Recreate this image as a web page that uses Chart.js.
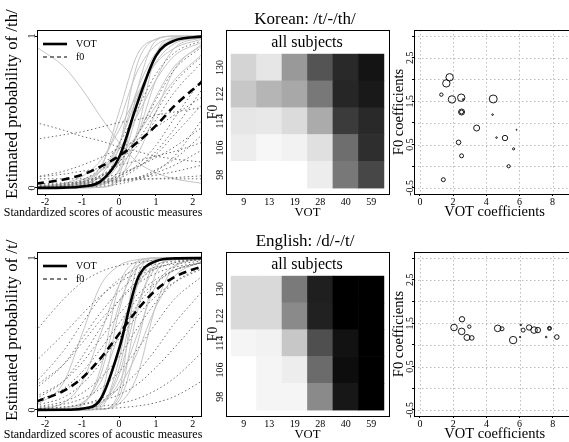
<!DOCTYPE html>
<html>
<head>
<meta charset="utf-8">
<script src="https://cdn.jsdelivr.net/npm/chart.js@4.4.0/dist/chart.umd.min.js"></script>
<style>
  html, body { margin: 0; padding: 0; background: #fff; overflow: hidden; }
  #fig { position: relative; width: 569px; height: 442px; overflow: hidden; }
  canvas { position: absolute; }
</style>
</head>
<body>
<div id="fig">
  <canvas id="koProb" width="205" height="222" style="left:0;top:0"></canvas>
  <canvas id="koHeat" width="210" height="222" style="left:200px;top:0"></canvas>
  <canvas id="koCoef" width="200" height="222" style="left:380px;top:0"></canvas>
  <canvas id="enProb" width="205" height="222" style="left:0;top:222px"></canvas>
  <canvas id="enHeat" width="210" height="222" style="left:200px;top:222px"></canvas>
  <canvas id="enCoef" width="200" height="222" style="left:380px;top:222px"></canvas>
</div>
<script>
const SERIF = "'Liberation Serif', 'Times New Roman', serif";
Chart.defaults.font.family = SERIF;
Chart.defaults.color = '#000';

// ---- probability curves: y values read at these standardized scores
const probX = [-2.25, -1.5, -1, -0.5, 0, 0.5, 1, 1.5, 2.25];
const probXTicks = [-2, -1, 0, 1, 2];
const probYTicks = [0, 1];

const koVotMean = [0, 0.002, 0.009, 0.043, 0.2, 0.56, 0.87, 0.97, 0.997];
const koF0Mean = [0.028, 0.055, 0.087, 0.14, 0.21, 0.3, 0.41, 0.54, 0.7];
const koVotCurves = [
  [0, 0.002, 0.018, 0.12, 0.5, 0.88, 0.98, 0.998, 1],
  [0, 0, 0.002, 0.03, 0.27, 0.82, 0.98, 1, 1],
  [0.001, 0.005, 0.02, 0.08, 0.29, 0.65, 0.89, 0.97, 0.997],
  [0, 0, 0, 0.005, 0.08, 0.65, 0.97, 1, 1],
  [0, 0, 0.002, 0.018, 0.12, 0.5, 0.88, 0.98, 1],
  [0.001, 0.008, 0.036, 0.14, 0.43, 0.77, 0.94, 0.985, 0.998],
  [0, 0, 0, 0.004, 0.047, 0.38, 0.88, 0.99, 1],
  [0, 0.001, 0.006, 0.027, 0.11, 0.35, 0.71, 0.92, 0.99],
  [0.002, 0.01, 0.032, 0.11, 0.29, 0.6, 0.83, 0.95, 0.99],
  [0.002, 0.01, 0.027, 0.07, 0.17, 0.35, 0.6, 0.8, 0.94],
  [0.004, 0.016, 0.043, 0.11, 0.25, 0.48, 0.71, 0.87, 0.96],
  [0.01, 0.027, 0.055, 0.11, 0.21, 0.35, 0.54, 0.71, 0.88],
  [0.007, 0.03, 0.076, 0.18, 0.38, 0.62, 0.82, 0.92, 0.98],
  [0, 0.001, 0.006, 0.036, 0.17, 0.55, 0.87, 0.976, 0.998],
  [0, 0.002, 0.007, 0.023, 0.076, 0.22, 0.5, 0.78, 0.95],
  [0.93, 0.8, 0.65, 0.47, 0.3, 0.17, 0.1, 0.06, 0.03]
];
const koF0Curves = [
  [0.005, 0.02, 0.052, 0.13, 0.29, 0.52, 0.75, 0.89, 0.97],
  [0.003, 0.012, 0.03, 0.074, 0.17, 0.35, 0.58, 0.78, 0.93],
  [0.006, 0.018, 0.038, 0.082, 0.17, 0.31, 0.5, 0.69, 0.87],
  [0.007, 0.019, 0.039, 0.08, 0.15, 0.28, 0.45, 0.63, 0.83],
  [0.003, 0.008, 0.018, 0.037, 0.078, 0.15, 0.28, 0.46, 0.72],
  [0.003, 0.007, 0.015, 0.031, 0.064, 0.13, 0.24, 0.39, 0.65],
  [0.006, 0.014, 0.026, 0.046, 0.08, 0.14, 0.22, 0.35, 0.55],
  [0.001, 0.003, 0.006, 0.012, 0.026, 0.057, 0.11, 0.21, 0.45],
  [0.003, 0.007, 0.012, 0.022, 0.039, 0.068, 0.12, 0.19, 0.35],
  [0.007, 0.013, 0.019, 0.03, 0.046, 0.069, 0.1, 0.15, 0.25],
  [0.016, 0.022, 0.03, 0.038, 0.05, 0.065, 0.084, 0.107, 0.15],
  [0.028, 0.033, 0.037, 0.043, 0.048, 0.054, 0.061, 0.068, 0.08],
  [0.073, 0.11, 0.15, 0.2, 0.26, 0.32, 0.4, 0.48, 0.6],
  [0.016, 0.029, 0.043, 0.063, 0.095, 0.14, 0.2, 0.27, 0.4],
  [0.071, 0.091, 0.11, 0.13, 0.15, 0.18, 0.21, 0.24, 0.3],
  [0.06, 0.06, 0.06, 0.06, 0.06, 0.06, 0.06, 0.06, 0.06],
  [0.43, 0.38, 0.34, 0.31, 0.27, 0.24, 0.21, 0.19, 0.17],
  [0.32, 0.35, 0.37, 0.4, 0.43, 0.45, 0.48, 0.5, 0.53]
];

const enVotMean = [0, 0.001, 0.008, 0.07, 0.4, 0.86, 0.98, 0.998, 1];
const enF0Mean = [0.054, 0.125, 0.21, 0.34, 0.5, 0.66, 0.79, 0.875, 0.946];
const enVotCurves = [
  [0, 0.002, 0.03, 0.27, 0.82, 0.98, 1, 1, 1],
  [0, 0.005, 0.04, 0.23, 0.69, 0.94, 0.99, 1, 1],
  [0, 0, 0.005, 0.083, 0.65, 0.97, 1, 1, 1],
  [0.001, 0.011, 0.047, 0.18, 0.5, 0.82, 0.95, 0.99, 1],
  [0, 0, 0, 0.015, 0.33, 0.94, 1, 1, 1],
  [0, 0, 0.002, 0.03, 0.27, 0.82, 0.98, 1, 1],
  [0, 0.001, 0.005, 0.04, 0.23, 0.69, 0.94, 0.99, 1],
  [0, 0, 0, 0.005, 0.083, 0.65, 0.97, 1, 1],
  [0, 0.002, 0.011, 0.047, 0.18, 0.5, 0.82, 0.95, 0.994],
  [0, 0, 0, 0.005, 0.06, 0.44, 0.9, 0.99, 1],
  [0.027, 0.18, 0.5, 0.82, 0.95, 0.99, 1, 1, 1],
  [0.001, 0.004, 0.014, 0.047, 0.15, 0.38, 0.68, 0.88, 0.98],
  [0.006, 0.047, 0.18, 0.5, 0.82, 0.95, 0.99, 1, 1],
  [0, 0, 0, 0.002, 0.12, 0.88, 1, 1, 1],
  [0, 0, 0.001, 0.005, 0.04, 0.23, 0.69, 0.94, 0.996]
];
const enF0Curves = [
  [0.52, 0.73, 0.84, 0.91, 0.95, 0.97, 0.986, 0.993, 0.997],
  [0.18, 0.39, 0.57, 0.74, 0.86, 0.93, 0.96, 0.98, 0.994],
  [0.14, 0.3, 0.47, 0.64, 0.78, 0.88, 0.93, 0.97, 0.99],
  [0.072, 0.19, 0.35, 0.54, 0.72, 0.85, 0.93, 0.97, 0.99],
  [0.088, 0.19, 0.31, 0.47, 0.63, 0.76, 0.86, 0.92, 0.97],
  [0.057, 0.14, 0.25, 0.4, 0.57, 0.73, 0.84, 0.92, 0.97],
  [0.06, 0.13, 0.21, 0.33, 0.47, 0.62, 0.75, 0.84, 0.93],
  [0.02, 0.055, 0.11, 0.21, 0.35, 0.54, 0.71, 0.84, 0.94],
  [0.015, 0.038, 0.074, 0.14, 0.25, 0.4, 0.57, 0.73, 0.88],
  [0.007, 0.019, 0.038, 0.074, 0.14, 0.25, 0.4, 0.57, 0.78],
  [0.008, 0.019, 0.034, 0.06, 0.1, 0.17, 0.28, 0.41, 0.62],
  [0.003, 0.007, 0.013, 0.024, 0.042, 0.074, 0.13, 0.21, 0.38],
  [0.001, 0.002, 0.004, 0.007, 0.014, 0.026, 0.048, 0.088, 0.19],
  [0.32, 0.5, 0.63, 0.75, 0.84, 0.9, 0.94, 0.96, 0.98],
  [0.16, 0.3, 0.44, 0.59, 0.72, 0.83, 0.9, 0.94, 0.97],
  [0.03, 0.083, 0.17, 0.31, 0.5, 0.69, 0.83, 0.92, 0.97]
];

// ---- heatmaps: darkness (proportion) per cell, rows listed from F0 130 down to 98
const votLevels = [9, 13, 19, 28, 40, 59];
const f0Levels = [130, 122, 114, 106, 98];
const koHeat = [
  [0.17, 0.10, 0.40, 0.67, 0.84, 0.92],
  [0.22, 0.29, 0.34, 0.53, 0.85, 0.90],
  [0.10, 0.09, 0.14, 0.33, 0.77, 0.84],
  [0.07, 0.03, 0.05, 0.12, 0.57, 0.82],
  [0.00, 0.00, 0.00, 0.07, 0.53, 0.72]
];
const enHeat = [
  [0.15, 0.15, 0.52, 0.88, 1.00, 1.00],
  [0.15, 0.15, 0.46, 0.87, 1.00, 1.00],
  [0.04, 0.05, 0.22, 0.69, 0.93, 1.00],
  [0.00, 0.04, 0.07, 0.58, 0.95, 1.00],
  [0.00, 0.04, 0.04, 0.46, 0.91, 1.00]
];

// ---- subject coefficients (circle radius = symbol size)
const koVotCoef = [1.79, 1.59, 1.29, 1.93, 2.49, 2.61, 2.51, 2.51, 4.42, 4.38, 3.42, 2.33, 2.51, 4.62, 5.13, 5.83, 5.65, 5.35, 1.41];
const koF0Coef = [2.05, 1.91, 1.65, 1.54, 1.58, 1.54, 1.25, 1.25, 1.55, 1.19, 0.88, 0.55, 0.24, 0.66, 0.65, 0.84, 0.40, 0.00, -0.31];
const koSize = [3.7, 3.7, 1.7, 3.7, 3.7, 0.8, 3.0, 2.0, 4.0, 0.8, 3.0, 2.3, 2.0, 0.8, 2.7, 0.5, 1.1, 1.6, 2.0];
const enVotCoef = [2.53, 2.05, 2.51, 2.97, 2.83, 3.12, 4.68, 4.94, 5.61, 6.07, 6.21, 6.03, 6.57, 6.87, 7.10, 7.80, 7.80, 7.60, 8.24];
const enF0Coef = [1.59, 1.40, 1.31, 1.42, 1.17, 1.16, 1.38, 1.37, 1.11, 1.46, 1.34, 1.18, 1.40, 1.34, 1.34, 1.38, 1.38, 1.18, 1.18];
const enSize = [2.7, 3.3, 3.3, 1.7, 3.0, 2.3, 3.3, 2.0, 3.7, 0.8, 2.0, 0.7, 2.7, 3.3, 2.7, 2.0, 1.3, 0.8, 2.3];
const coefXTicks = [0, 2, 4, 6, 8];
const coefYTicks = [-0.5, 0, 0.5, 1, 1.5, 2, 2.5, 3];
const coefYLabels = [-0.5, 0.5, 1.5, 2.5];

// R-style extras: box, dotted grid, rotated y labels, free text, legend
const rPanel = {
  id: 'rPanel',
  beforeDatasetsDraw(chart, args, opts) {
    if (!opts.grid) return;
    const { ctx, chartArea: a, scales: { x, y } } = chart;
    ctx.save();
    ctx.strokeStyle = '#bdbdbd';
    ctx.lineWidth = 1;
    ctx.setLineDash([1.5, 2.5]);
    ctx.beginPath();
    x.ticks.forEach(t => {
      const px = Math.round(x.getPixelForValue(t.value)) + 0.5;
      ctx.moveTo(px, a.top); ctx.lineTo(px, a.bottom);
    });
    y.ticks.forEach(t => {
      const py = Math.round(y.getPixelForValue(t.value)) + 0.5;
      ctx.moveTo(a.left, py); ctx.lineTo(a.right, py);
    });
    ctx.stroke();
    ctx.restore();
  },
  afterDraw(chart, args, opts) {
    const { ctx, chartArea: a, scales: { y } } = chart;
    ctx.save();
    ctx.fillStyle = '#000';
    ctx.strokeStyle = '#000';
    ctx.lineWidth = 1;
    const l = Math.round(a.left), t = Math.round(a.top);
    ctx.strokeRect(l + 0.5, t + 0.5, Math.round(a.right) - l, Math.round(a.bottom) - t);

    if (opts.yLabels) {
      const yl = opts.yLabels;
      ctx.font = `${yl.size}px ${SERIF}`;
      ctx.textAlign = 'center';
      ctx.textBaseline = 'middle';
      yl.values.forEach((v, i) => {
        ctx.save();
        ctx.translate(yl.x, y.getPixelForValue(v));
        ctx.rotate(-Math.PI / 2);
        ctx.fillText(String(yl.labels ? yl.labels[i] : v), 0, 0);
        ctx.restore();
      });
    }
    (opts.texts || []).forEach(tx => {
      ctx.save();
      ctx.font = `${tx.size}px ${SERIF}`;
      ctx.textAlign = tx.align || 'center';
      ctx.textBaseline = 'middle';
      ctx.translate(tx.x, tx.y);
      if (tx.rot) ctx.rotate(-Math.PI / 2);
      ctx.fillText(tx.text, 0, 0);
      ctx.restore();
    });
    (opts.legend || []).forEach((it, i) => {
      const ly = a.top + 14 + i * 13;
      ctx.save();
      ctx.strokeStyle = it.color;
      ctx.lineWidth = it.width;
      ctx.setLineDash(it.dash);
      ctx.beginPath();
      ctx.moveTo(a.left + 6, ly); ctx.lineTo(a.left + 30, ly);
      ctx.stroke();
      ctx.font = `10px ${SERIF}`;
      ctx.textAlign = 'left';
      ctx.textBaseline = 'middle';
      ctx.fillText(it.label, a.left + 39, ly);
      ctx.restore();
    });
    ctx.restore();
  }
};

const fixedTicks = vals => scale => { scale.ticks = vals.map(v => ({ value: v })); };

function probChart(id, votMean, f0Mean, votCurves, f0Curves, yTitle) {
  const toPts = ys => ys.map((y, i) => ({ x: probX[i], y }));
  const datasets = [
    { data: toPts(votMean), borderColor: '#000', borderWidth: 2.6 },
    { data: toPts(f0Mean), borderColor: '#000', borderWidth: 2.6, borderDash: [8, 5] },
    ...f0Curves.map(c => ({ data: toPts(c), borderColor: '#6e6e6e', borderWidth: 1, borderDash: [1.5, 2.5] })),
    ...votCurves.map(c => ({ data: toPts(c), borderColor: '#c4c4c4', borderWidth: 1 }))
  ];
  return new Chart(document.getElementById(id), {
    type: 'line',
    data: { datasets },
    plugins: [rPanel],
    options: {
      responsive: false,
      animation: false,
      layout: { padding: { left: 0, right: 4, top: 30, bottom: 0 } },
      elements: { point: { radius: 0 }, line: { cubicInterpolationMode: 'monotone', fill: false } },
      plugins: {
        legend: { display: false },
        tooltip: { enabled: false },
        rPanel: {
          yLabels: { x: 32.7, values: probYTicks, size: 10 },
          texts: [
            { text: yTitle, x: 13, y: 199, size: 16.8, rot: true, align: 'left' },
            { text: 'Standardized scores of acoustic measures', x: 103, y: 212.5, size: 12 }
          ],
          legend: [
            { label: 'VOT', color: '#000', width: 2.6, dash: [] },
            { label: 'f0', color: '#555', width: 1.4, dash: [4, 3] }
          ]
        }
      },
      scales: {
        x: {
          type: 'linear', min: -2.22, max: 2.22,
          afterBuildTicks: fixedTicks(probXTicks),
          afterFit: s => { s.height = 28; },
          border: { display: false },
          grid: { drawOnChartArea: false, tickLength: 2, tickColor: '#000' },
          ticks: { autoSkip: false, maxRotation: 0, padding: 0.5, font: { size: 10 }, callback: v => String(v) }
        },
        y: {
          type: 'linear', min: -0.04, max: 1.04,
          afterBuildTicks: fixedTicks(probYTicks),
          afterFit: s => { s.width = 37; },
          border: { display: false },
          grid: { drawOnChartArea: false, tickLength: 2, tickColor: '#000' },
          ticks: { display: false }
        }
      }
    }
  });
}

function heatChart(id, grid, title) {
  const cells = [], colors = [];
  grid.forEach((row, r) => row.forEach((p, c) => {
    const lo = f0Levels.length - 1 - r;
    cells.push({ x: c + 0.5, y: [lo, lo + 1] });
    const g = Math.round(255 * (1 - p));
    colors.push(`rgb(${g},${g},${g})`);
  }));
  return new Chart(document.getElementById(id), {
    type: 'bar',
    data: { datasets: [{ data: cells, backgroundColor: colors, borderWidth: 0, barPercentage: 1, categoryPercentage: 1 }] },
    plugins: [rPanel],
    options: {
      responsive: false,
      animation: false,
      layout: { padding: { left: 0, right: 21, top: 30, bottom: 0 } },
      plugins: {
        legend: { display: false },
        tooltip: { enabled: false },
        rPanel: {
          yLabels: { x: 20.7, values: f0Levels.map((v, i) => f0Levels.length - 1 - i + 0.5), labels: f0Levels, size: 10 },
          texts: [
            { text: title, x: 105, y: 19.5, size: 17 },
            { text: 'all subjects', x: 107, y: 42.7, size: 16 }
          ]
        }
      },
      scales: {
        x: {
          type: 'linear', offset: false, min: -0.2, max: 6.2,
          afterBuildTicks: fixedTicks(votLevels.map((v, i) => i + 0.5)),
          afterFit: s => { s.height = 28; },
          border: { display: false },
          grid: { display: false, drawTicks: false, offset: false },
          ticks: { autoSkip: false, maxRotation: 0, padding: 2.5, font: { size: 10 }, callback: (v, i) => votLevels[i] },
          title: { display: true, text: 'VOT', font: { size: 12.7 }, padding: { top: 0, bottom: 1.8 } }
        },
        y: {
          type: 'linear', min: -0.22, max: 5.9,
          afterBuildTicks: fixedTicks(f0Levels.map((v, i) => f0Levels.length - 1 - i + 0.5)),
          afterFit: s => { s.width = 26; },
          border: { display: false },
          grid: { display: false, drawTicks: false },
          ticks: { display: false },
          title: { display: true, text: 'F0', font: { size: 13.6 }, padding: { top: 5, bottom: 0 } }
        }
      }
    }
  });
}

function coefChart(id, votCoef, f0Coef, size) {
  return new Chart(document.getElementById(id), {
    type: 'scatter',
    data: {
      datasets: [{
        data: votCoef.map((x, i) => ({ x, y: f0Coef[i] })),
        pointRadius: size,
        pointHoverRadius: size,
        pointBorderColor: '#000',
        pointBackgroundColor: 'rgba(0,0,0,0)',
        pointBorderWidth: 0.9
      }]
    },
    plugins: [rPanel],
    options: {
      responsive: false,
      animation: false,
      layout: { padding: { left: 0, right: 3, top: 30, bottom: 0 } },
      plugins: {
        legend: { display: false },
        tooltip: { enabled: false },
        rPanel: { grid: true, yLabels: { x: 30.5, values: coefYLabels, size: 10 } }
      },
      scales: {
        x: {
          type: 'linear', min: -0.36, max: 9.36,
          afterBuildTicks: fixedTicks(coefXTicks),
          afterFit: s => { s.height = 28; },
          border: { display: false },
          grid: { drawOnChartArea: false, tickLength: 2, tickColor: '#000' },
          ticks: { autoSkip: false, maxRotation: 0, padding: 0.5, font: { size: 10 }, callback: v => String(v) },
          title: { display: true, text: 'VOT coefficients', font: { size: 14.5 }, padding: { top: 0, bottom: 1.5 } }
        },
        y: {
          type: 'linear', min: -0.64, max: 3.14,
          afterBuildTicks: fixedTicks(coefYTicks),
          afterFit: s => { s.width = 34; },
          border: { display: false },
          grid: { drawOnChartArea: false, tickLength: 2, tickColor: '#000' },
          ticks: { display: false },
          title: { display: true, text: 'F0 coefficients', font: { size: 14.5 }, padding: { top: 10.6, bottom: 0 } }
        }
      }
    }
  });
}

probChart('koProb', koVotMean, koF0Mean, koVotCurves, koF0Curves, 'Estimated probability of /th/');
heatChart('koHeat', koHeat, 'Korean: /t/-/th/');
coefChart('koCoef', koVotCoef, koF0Coef, koSize);
probChart('enProb', enVotMean, enF0Mean, enVotCurves, enF0Curves, 'Estimated probability of /t/');
heatChart('enHeat', enHeat, 'English: /d/-/t/');
coefChart('enCoef', enVotCoef, enF0Coef, enSize);
</script>
</body>
</html>
